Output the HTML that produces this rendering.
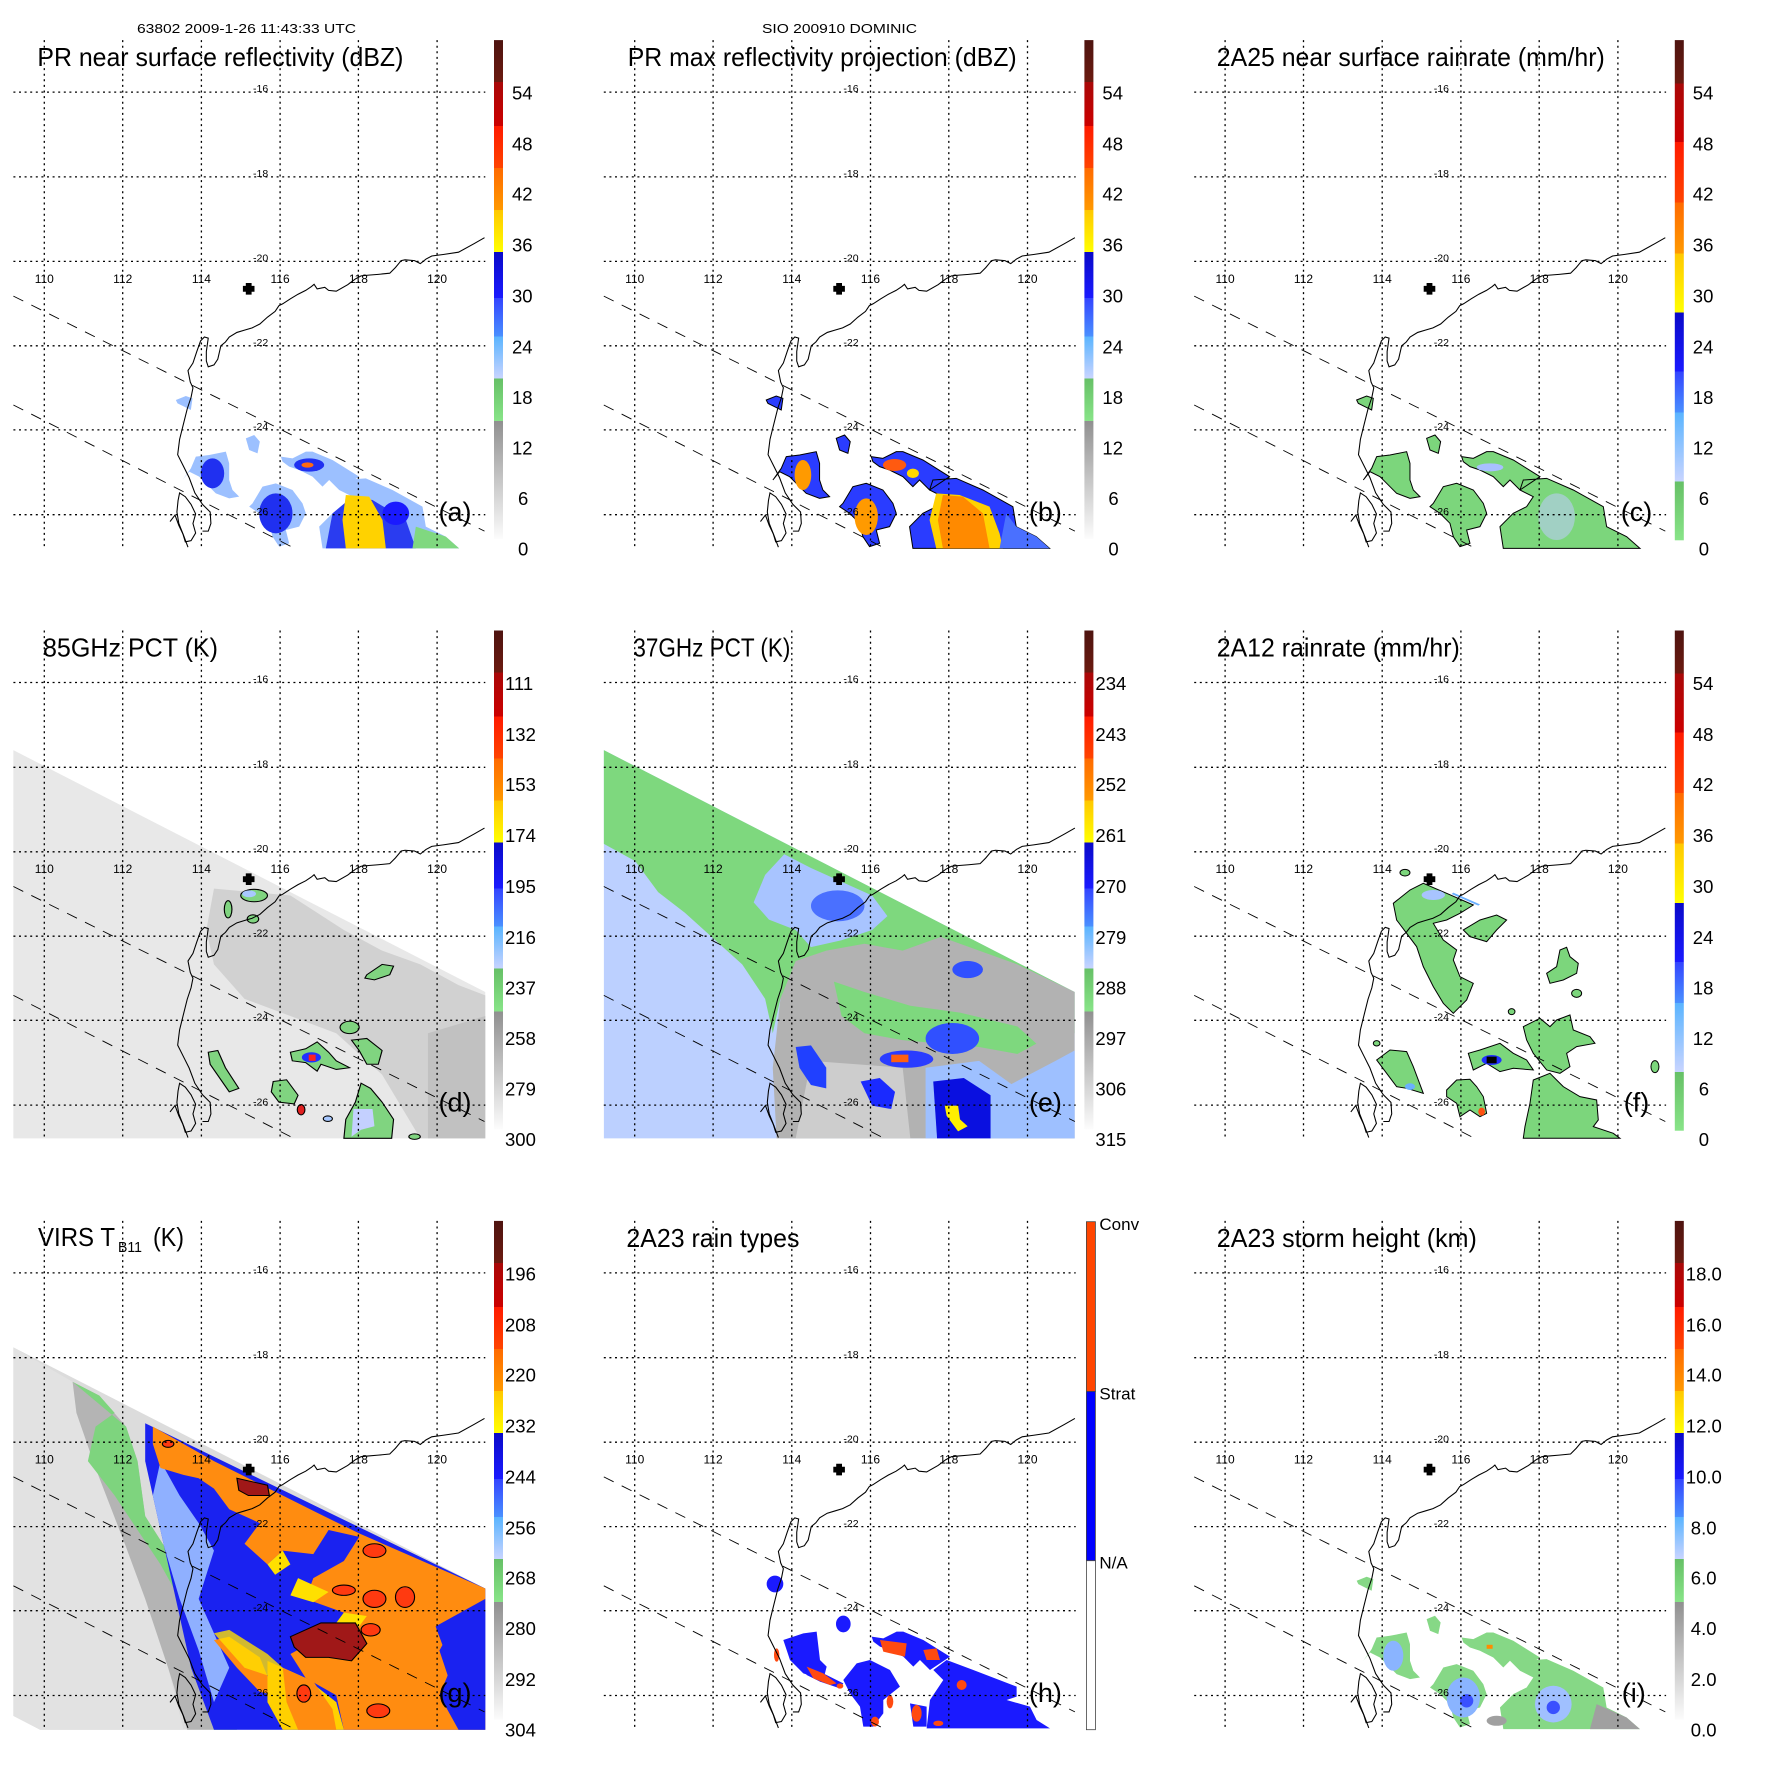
<!DOCTYPE html>
<html><head><meta charset="utf-8"><style>
html,body{margin:0;padding:0;background:#fff;}
svg{display:block;}
text{font-family:"Liberation Sans",Arial,sans-serif;fill:#000;}
.lon{font-size:12px;text-anchor:middle;}
.lat{font-size:10.5px;text-anchor:middle;}
.cb{font-size:18.5px;}
.ti{font-size:26px;}
.pl{font-size:27px;}
</style></head><body>
<svg width="1771" height="1771" viewBox="0 0 1771 1771" xmlns="http://www.w3.org/2000/svg">
<defs>
<linearGradient id="gA" x1="0" y1="0" x2="0" y2="1">
<stop offset="0" stop-color="#4e1410"/><stop offset=".0844" stop-color="#6b1a10"/>
<stop offset=".0844" stop-color="#a80808"/><stop offset=".1724" stop-color="#cc0000"/>
<stop offset=".1724" stop-color="#ff1a00"/><stop offset=".2567" stop-color="#ff4400"/>
<stop offset=".2567" stop-color="#ff6a00"/><stop offset=".3411" stop-color="#ff9900"/>
<stop offset=".3411" stop-color="#ffc800"/><stop offset=".4253" stop-color="#ffff00"/>
<stop offset=".4253" stop-color="#0a0ac8"/><stop offset=".5171" stop-color="#1a1aff"/>
<stop offset=".5171" stop-color="#3344ff"/><stop offset=".5939" stop-color="#4a90ff"/>
<stop offset=".5939" stop-color="#5ab4ff"/><stop offset=".6782" stop-color="#c8d4ff"/>
<stop offset=".6782" stop-color="#66c066"/><stop offset=".764" stop-color="#88e488"/>
<stop offset=".764" stop-color="#909090"/><stop offset="1" stop-color="#fcfcfc"/>
</linearGradient>
<linearGradient id="gC" x1="0" y1="0" x2="0" y2="1">
<stop offset="0" stop-color="#4e1410"/><stop offset=".0864" stop-color="#6b1a10"/>
<stop offset=".0864" stop-color="#a80808"/><stop offset=".2039" stop-color="#cc0000"/>
<stop offset=".2039" stop-color="#ff1a00"/><stop offset=".3247" stop-color="#ff4400"/>
<stop offset=".3247" stop-color="#ff6a00"/><stop offset=".4262" stop-color="#ff9900"/>
<stop offset=".4262" stop-color="#ffc800"/><stop offset=".5447" stop-color="#ffff00"/>
<stop offset=".5447" stop-color="#0a0ac8"/><stop offset=".6623" stop-color="#1a1aff"/>
<stop offset=".6623" stop-color="#3344ff"/><stop offset=".7449" stop-color="#4a90ff"/>
<stop offset=".7449" stop-color="#5ab4ff"/><stop offset=".8822" stop-color="#c8d4ff"/>
<stop offset=".8822" stop-color="#66c066"/><stop offset="1" stop-color="#88e488"/>
</linearGradient>
<g id="ov">
<g stroke="#000" stroke-width="1.3" stroke-dasharray="2 3.6" fill="none">
<path d="M44.3,40.1V547.2M122.7,40.1V547.2M201.4,40.1V547.2M280.1,40.1V547.2M358.4,40.1V547.2M437.1,40.1V547.2"/>
<path d="M13.4,92.1H485.3M13.4,176.9H485.3M13.4,261.4H485.3M13.4,345.8H485.3M13.4,429.9H485.3M13.4,514.7H485.3"/>
</g>
<g stroke="#000" stroke-width="0.9" stroke-dasharray="11 9" fill="none">
<path d="M13.4,296.1L484.5,531.1M13.4,405L292,547"/>
</g>
<g transform="scale(0.3821)" fill="none" stroke="#000" stroke-width="2.8">
<path d="M1268,622 L1240,638 L1200,660 L1160,666 L1130,670 L1115,678 L1100,690 L1085,682 L1060,680 L1050,682 L1035,700 L1020,715 L990,718 L965,720 L945,722 L930,730 L910,745 L880,762 L860,760 L850,752 L830,756 L822,744 L815,750 L800,760 L780,770 L760,782 L740,795 L730,800 L720,815 L700,830 L680,848 L660,858 L640,864 L620,870 L600,882 L590,895 L578,905 L570,940 L560,955 L545,960 L540,945 L540,920 L545,885 L535,882 L525,892 L515,920 L505,950 L492,970 L498,1000 L505,1015 L500,1040 L490,1070 L480,1110 L470,1150 L465,1190 L480,1220 L495,1250 L510,1290 L530,1320 L550,1340 L552,1370 L545,1390 L530,1390"/>
<path d="M470,1290 L485,1300 L500,1320 L512,1345 L505,1370 L512,1395 L500,1415 L485,1418 L478,1395 L468,1370 L463,1340 L466,1310 Z"/>
<path d="M445,1365 L458,1348 L468,1375 L480,1400 L492,1432"/>
</g>
<path d="M245.8,288.5h5.8v2.9h2.9v5.8h-2.9v2.9h-5.8v-2.9h-2.9v-5.8h2.9z" fill="#000" transform="translate(0,-5.5)"/>
</g>
<path id="PR" d="M530,60 L560,48 L580,55 L575,90 L555,80 L535,70 Z M740,175 L765,165 L782,185 L775,220 L750,210 Z M590,230 L630,225 L680,215 L690,250 L690,300 L700,330 L720,350 L690,355 L650,340 L620,310 L600,290 L570,275 L550,300 L575,265 Z M845,230 L880,235 L920,215 L940,215 L1000,240 L1080,290 L1050,310 L1020,330 L990,300 L970,320 L940,290 L900,270 L870,260 L850,245 Z M760,370 L790,320 L830,310 L880,330 L910,370 L920,400 L900,440 L860,450 L870,490 L840,500 L820,470 L810,430 L780,400 L750,380 Z M1030,300 L1100,295 L1180,330 L1270,380 L1280,440 L1340,470 L1380,505 L970,505 L960,440 L1000,400 L1040,380 L1060,350 L1020,330 Z"/>
</defs>

<text x="137" y="33" font-size="12.5" textLength="219" lengthAdjust="spacingAndGlyphs">63802 2009-1-26 11:43:33 UTC</text>
<text x="762" y="33" font-size="12.5" textLength="155" lengthAdjust="spacingAndGlyphs">SIO 200910 DOMINIC</text>

<!-- ===== Panel a ===== -->
<g transform="translate(0,0)">
<g transform="translate(-0.8,380) scale(0.3333)">
<use href="#PR" fill="#9cc0ff"/>
<ellipse cx="640" cy="280" rx="35" ry="45" fill="#2030f0"/>
<ellipse cx="930" cy="255" rx="45" ry="20" fill="#2030f0"/>
<ellipse cx="925" cy="255" rx="18" ry="8" fill="#ff6a10"/>
<ellipse cx="830" cy="400" rx="50" ry="60" fill="#2030f0"/>
<path d="M1000,400 L1060,350 L1120,360 L1220,420 L1250,505 L980,505 Z" fill="#2a3cf0"/>
<path d="M1040,345 L1110,350 L1150,420 L1160,505 L1040,505 L1030,420 Z" fill="#ffd200"/>
<ellipse cx="1190" cy="400" rx="40" ry="35" fill="#1a1aff"/>
<path d="M1250,440 L1340,470 L1380,505 L1240,505 Z" fill="#80d880"/>
</g>
<use href="#ov"/>
<rect x="494" y="40.1" width="9" height="498.7" fill="url(#gA)"/>
<text class="ti" x="37.4" y="66" textLength="366" lengthAdjust="spacingAndGlyphs">PR near surface reflectivity (dBZ)</text>
<text class="pl" x="438.5" y="521">(a)</text>
<g class="cb"><text x="512" y="99.7">54</text><text x="512" y="150.5">48</text><text x="512" y="200.6">42</text><text x="512" y="251.5">36</text><text x="512" y="302.6">30</text><text x="512" y="353.5">24</text><text x="512" y="403.9">18</text><text x="512" y="454.4">12</text><text x="518" y="505.1">6</text><text x="518" y="555.6">0</text></g>
<g class="lon"><text x="44.3" y="282.8">110</text><text x="122.7" y="282.8">112</text><text x="201.4" y="282.8">114</text><text x="280.1" y="282.8">116</text><text x="358.4" y="282.8">118</text><text x="437.1" y="282.8">120</text></g>
<g class="lat"><text x="260.6" y="92">-16</text><text x="260.6" y="177">-18</text><text x="260.6" y="261.5">-20</text><text x="260.6" y="346">-22</text><text x="260.6" y="430">-24</text><text x="260.6" y="515">-26</text></g>
</g>

<!-- ===== Panel b ===== -->
<g transform="translate(590.4,0)">
<g transform="translate(-0.8,380) scale(0.3333)">
<use href="#PR" fill="#2a3cff" stroke="#000" stroke-width="3"/>
<ellipse cx="640" cy="285" rx="25" ry="45" fill="#ff9a00"/>
<ellipse cx="915" cy="255" rx="35" ry="18" fill="#ff5a10"/>
<ellipse cx="970" cy="280" rx="18" ry="14" fill="#ffd800"/>
<ellipse cx="830" cy="410" rx="35" ry="55" fill="#ff9a00"/>
<path d="M1040,340 L1110,345 L1200,380 L1230,460 L1240,505 L1040,505 L1020,420 Z" fill="#ffd200"/>
<path d="M1060,345 L1120,350 L1180,400 L1200,505 L1060,505 L1045,420 Z" fill="#ff8a00"/>
<path d="M1250,400 L1280,440 L1340,470 L1380,505 L1230,505 Z" fill="#4a70ff"/>
</g>
<use href="#ov"/>
<rect x="494" y="40.1" width="9" height="498.7" fill="url(#gA)"/>
<text class="ti" x="37.3" y="66" textLength="389" lengthAdjust="spacingAndGlyphs">PR max reflectivity projection (dBZ)</text>
<text class="pl" x="438.5" y="521">(b)</text>
<g class="cb"><text x="512" y="99.7">54</text><text x="512" y="150.5">48</text><text x="512" y="200.6">42</text><text x="512" y="251.5">36</text><text x="512" y="302.6">30</text><text x="512" y="353.5">24</text><text x="512" y="403.9">18</text><text x="512" y="454.4">12</text><text x="518" y="505.1">6</text><text x="518" y="555.6">0</text></g>
<g class="lon"><text x="44.3" y="282.8">110</text><text x="122.7" y="282.8">112</text><text x="201.4" y="282.8">114</text><text x="280.1" y="282.8">116</text><text x="358.4" y="282.8">118</text><text x="437.1" y="282.8">120</text></g>
<g class="lat"><text x="260.6" y="92">-16</text><text x="260.6" y="177">-18</text><text x="260.6" y="261.5">-20</text><text x="260.6" y="346">-22</text><text x="260.6" y="430">-24</text><text x="260.6" y="515">-26</text></g>
</g>

<!-- ===== Panel c ===== -->
<g transform="translate(1180.8,0)">
<g transform="translate(-0.8,380) scale(0.3333)">
<use href="#PR" fill="#7cd67c" stroke="#000" stroke-width="3"/>
<ellipse cx="930" cy="262" rx="40" ry="12" fill="#a8c0ff"/>
<ellipse cx="1130" cy="410" rx="55" ry="70" fill="#c0ccff" opacity="0.55"/>
</g>
<use href="#ov"/>
<rect x="494" y="40.1" width="9" height="500.2" fill="url(#gC)"/>
<text class="ti" x="36" y="66" textLength="388" lengthAdjust="spacingAndGlyphs">2A25 near surface rainrate (mm/hr)</text>
<text class="pl" x="440" y="521">(c)</text>
<g class="cb"><text x="512" y="99.7">54</text><text x="512" y="150.5">48</text><text x="512" y="200.6">42</text><text x="512" y="251.5">36</text><text x="512" y="302.6">30</text><text x="512" y="353.5">24</text><text x="512" y="403.9">18</text><text x="512" y="454.4">12</text><text x="518" y="505.1">6</text><text x="518" y="555.6">0</text></g>
<g class="lon"><text x="44.3" y="282.8">110</text><text x="122.7" y="282.8">112</text><text x="201.4" y="282.8">114</text><text x="280.1" y="282.8">116</text><text x="358.4" y="282.8">118</text><text x="437.1" y="282.8">120</text></g>
<g class="lat"><text x="260.6" y="92">-16</text><text x="260.6" y="177">-18</text><text x="260.6" y="261.5">-20</text><text x="260.6" y="346">-22</text><text x="260.6" y="430">-24</text><text x="260.6" y="515">-26</text></g>
</g>

<!-- ===== Panel d ===== -->
<g transform="translate(0,590.4)">
<g transform="translate(0,29.6) scale(0.3821,0.3444)">
<path d="M35,378 L1270,1080 L1270,1505 L35,1505 Z" fill="#e8e8e8"/>
<path d="M560,780 L760,800 L900,900 L1000,960 L1100,1000 L1200,1060 L1270,1090 L1270,1505 L1100,1505 L1000,1320 L880,1200 L760,1150 L640,1100 L560,1000 L540,900 Z" fill="#cdcdcd" opacity="0.85"/>
<path d="M1120,1200 L1270,1150 L1270,1505 L1120,1505 Z" fill="#bdbdbd" opacity="0.8"/>
<g stroke="#000" stroke-width="3" fill="#80d480">
<ellipse cx="665" cy="800" rx="35" ry="18"/>
<ellipse cx="597" cy="840" rx="10" ry="25"/>
<ellipse cx="662" cy="868" rx="15" ry="12"/>
<path d="M960,1030 L1000,1000 L1030,1005 L1020,1030 L980,1045 L955,1040 Z"/>
<ellipse cx="915" cy="1183" rx="25" ry="18"/>
<path d="M760,1255 L800,1245 L830,1225 L860,1255 L880,1280 L915,1300 L880,1305 L840,1290 L830,1310 L800,1285 L765,1280 Z"/>
<path d="M920,1220 L960,1215 L1000,1250 L990,1290 L960,1290 L940,1250 Z"/>
<path d="M545,1255 L570,1250 L590,1300 L625,1360 L600,1370 L575,1330 L550,1290 Z"/>
<path d="M715,1340 L750,1335 L780,1380 L770,1405 L730,1400 L710,1370 Z"/>
<path d="M945,1345 L970,1360 L1000,1400 L1030,1450 L1025,1505 L900,1505 L905,1450 L930,1400 Z"/>
<ellipse cx="1085" cy="1500" rx="15" ry="8"/>
</g>
<ellipse cx="652" cy="795" rx="18" ry="10" fill="#a8c8ff"/>
<ellipse cx="815" cy="1270" rx="25" ry="15" fill="#2030ff"/>
<rect x="808" y="1262" width="18" height="18" fill="#ff2020"/>
<ellipse cx="788" cy="1422" rx="10" ry="15" fill="#e02020" stroke="#000" stroke-width="3"/>
<ellipse cx="858" cy="1448" rx="12" ry="8" fill="#a8c8ff" stroke="#000" stroke-width="3"/>
<path d="M925,1420 L975,1420 L980,1470 L945,1480 L920,1500 Z" fill="#c4d0ff"/>
</g>
<use href="#ov"/>
<rect x="494" y="40.1" width="9" height="498.7" fill="url(#gA)"/>
<text class="ti" x="43" y="66" textLength="175" lengthAdjust="spacingAndGlyphs">85GHz PCT (K)</text>
<text class="pl" x="438.5" y="521">(d)</text>
<g class="cb"><text x="505" y="99.7">111</text><text x="505" y="150.5">132</text><text x="505" y="200.6">153</text><text x="505" y="251.5">174</text><text x="505" y="302.6">195</text><text x="505" y="353.5">216</text><text x="505" y="403.9">237</text><text x="505" y="454.4">258</text><text x="505" y="505.1">279</text><text x="505" y="555.6">300</text></g>
<g class="lon"><text x="44.3" y="282.8">110</text><text x="122.7" y="282.8">112</text><text x="201.4" y="282.8">114</text><text x="280.1" y="282.8">116</text><text x="358.4" y="282.8">118</text><text x="437.1" y="282.8">120</text></g>
<g class="lat"><text x="260.6" y="92">-16</text><text x="260.6" y="177">-18</text><text x="260.6" y="261.5">-20</text><text x="260.6" y="346">-22</text><text x="260.6" y="430">-24</text><text x="260.6" y="515">-26</text></g>
</g>

<!-- ===== Panel e ===== -->
<g transform="translate(590.4,590.4)">
<g transform="translate(6.6,29.6) scale(0.3821,0.3444)">
<path d="M18,378 L1250,1080 L1250,1505 L18,1505 Z" fill="#bcd0ff"/>
<path d="M18,378 L1250,1080 L1250,1200 L1150,1200 L1050,1150 L950,1120 L800,1100 L700,1050 L600,970 L520,1000 L480,1100 L460,1200 L440,1100 L380,1000 L300,920 L230,850 L160,790 L100,700 L18,650 Z" fill="#7ed87e"/>
<path d="M410,820 L440,740 L490,680 L560,720 L720,800 L760,860 L720,900 L640,930 L560,950 L520,900 L450,870 Z" fill="#a8c4ff"/>
<ellipse cx="630" cy="830" rx="70" ry="45" fill="#4a70ff"/>
<path d="M520,990 L600,960 L700,940 L800,960 L900,920 L1000,960 L1100,1000 L1250,1080 L1250,1505 L470,1505 L460,1300 L480,1100 Z" fill="#b2b2b2"/>
<path d="M560,1280 L800,1300 L820,1505 L520,1505 Z" fill="#cdcdcd"/>
<path d="M620,1050 L700,1080 L820,1120 L950,1140 L1100,1180 L1150,1230 L1100,1260 L1000,1240 L900,1230 L800,1220 L700,1200 L640,1150 Z" fill="#7ed87e"/>
<path d="M1080,1350 L1200,1280 L1250,1250 L1250,1505 L1080,1505 Z" fill="#9ec0ff"/>
<path d="M860,1300 L1000,1280 L1100,1360 L1100,1505 L860,1505 Z" fill="#9ec0ff"/>
<path d="M520,1240 L560,1235 L600,1300 L600,1360 L560,1350 L530,1300 Z" fill="#2040ff"/>
<path d="M690,1340 L740,1330 L780,1370 L770,1420 L720,1410 Z" fill="#1a2aff"/>
<ellipse cx="810" cy="1275" rx="70" ry="25" fill="#2a3cff"/>
<rect x="770" y="1262" width="45" height="22" fill="#ff6010"/>
<path d="M880,1340 L960,1330 L1030,1380 L1030,1505 L890,1505 Z" fill="#0a10e0"/>
<path d="M910,1410 L945,1410 L950,1450 L970,1470 L945,1485 L915,1440 Z" fill="#ffee00"/>
<ellipse cx="930" cy="1215" rx="70" ry="45" fill="#3050ff"/>
<ellipse cx="970" cy="1015" rx="40" ry="25" fill="#3050ff"/>
</g>
<use href="#ov"/>
<rect x="494" y="40.1" width="9" height="498.7" fill="url(#gA)"/>
<text class="ti" x="43" y="66" textLength="157" lengthAdjust="spacingAndGlyphs">37GHz PCT (K)</text>
<text class="pl" x="438.5" y="521">(e)</text>
<g class="cb"><text x="505" y="99.7">234</text><text x="505" y="150.5">243</text><text x="505" y="200.6">252</text><text x="505" y="251.5">261</text><text x="505" y="302.6">270</text><text x="505" y="353.5">279</text><text x="505" y="403.9">288</text><text x="505" y="454.4">297</text><text x="505" y="505.1">306</text><text x="505" y="555.6">315</text></g>
<g class="lon"><text x="44.3" y="282.8">110</text><text x="122.7" y="282.8">112</text><text x="201.4" y="282.8">114</text><text x="280.1" y="282.8">116</text><text x="358.4" y="282.8">118</text><text x="437.1" y="282.8">120</text></g>
<g class="lat"><text x="260.6" y="92">-16</text><text x="260.6" y="177">-18</text><text x="260.6" y="261.5">-20</text><text x="260.6" y="346">-22</text><text x="260.6" y="430">-24</text><text x="260.6" y="515">-26</text></g>
</g>

<!-- ===== Panel f ===== -->
<g transform="translate(1180.8,590.4)">
<g transform="translate(-0.8,249.6) scale(0.3333)">
<g fill="#7cd67c" stroke="#000" stroke-width="3">
<path d="M640,190 L690,150 L730,130 L800,160 L880,195 L840,220 L800,240 L760,250 L790,300 L830,330 L820,360 L840,410 L880,430 L860,480 L820,520 L790,490 L760,440 L730,380 L710,320 L680,280 L650,240 Z"/>
<ellipse cx="675" cy="98" rx="15" ry="10"/>
<path d="M850,270 L900,240 L950,225 L980,240 L950,270 L920,305 L870,290 Z"/>
<path d="M1100,400 L1130,380 L1140,330 L1160,322 L1170,350 L1195,370 L1190,400 L1150,420 L1110,430 Z"/>
<ellipse cx="1190" cy="460" rx="15" ry="12"/>
<path d="M590,660 L630,630 L680,635 L700,680 L730,760 L680,745 L650,740 L620,700 Z"/>
<path d="M800,750 L830,720 L870,718 L890,740 L910,770 L920,820 L900,830 L870,810 L840,830 L830,790 L800,770 Z"/>
<path d="M865,640 L900,630 L960,610 L1000,640 L1040,660 L1060,690 L1000,685 L960,695 L920,670 L880,690 Z"/>
<path d="M1030,560 L1080,535 L1110,560 L1130,540 L1170,525 L1180,570 L1230,590 L1245,610 L1190,620 L1160,640 L1170,680 L1140,700 L1100,690 L1060,640 L1040,600 Z"/>
<path d="M1060,720 L1110,700 L1130,720 L1150,740 L1200,770 L1250,780 L1255,840 L1240,860 L1300,880 L1320,895 L1030,895 L1035,860 L1050,790 Z"/>
<ellipse cx="1425" cy="680" rx="12" ry="18"/>
<ellipse cx="995" cy="515" rx="10" ry="9"/>
<ellipse cx="590" cy="610" rx="10" ry="8"/>
</g>
<ellipse cx="760" cy="165" rx="35" ry="15" fill="#a8c4ff"/>
<path d="M820,158 L900,193 L895,197 L815,162 Z" fill="#6ab0ff"/>
<ellipse cx="935" cy="660" rx="30" ry="15" fill="#2030ff"/>
<rect x="920" y="650" width="30" height="20" fill="#000"/>
<ellipse cx="905" cy="815" rx="10" ry="12" fill="#ff5010"/>
<ellipse cx="690" cy="740" rx="15" ry="10" fill="#6ab0ff"/>
</g>
<use href="#ov"/>
<rect x="494" y="40.1" width="9" height="500.2" fill="url(#gC)"/>
<text class="ti" x="36" y="66" textLength="243" lengthAdjust="spacingAndGlyphs">2A12 rainrate (mm/hr)</text>
<text class="pl" x="443" y="521">(f)</text>
<g class="cb"><text x="512" y="99.7">54</text><text x="512" y="150.5">48</text><text x="512" y="200.6">42</text><text x="512" y="251.5">36</text><text x="512" y="302.6">30</text><text x="512" y="353.5">24</text><text x="512" y="403.9">18</text><text x="512" y="454.4">12</text><text x="518" y="505.1">6</text><text x="518" y="555.6">0</text></g>
<g class="lon"><text x="44.3" y="282.8">110</text><text x="122.7" y="282.8">112</text><text x="201.4" y="282.8">114</text><text x="280.1" y="282.8">116</text><text x="358.4" y="282.8">118</text><text x="437.1" y="282.8">120</text></g>
<g class="lat"><text x="260.6" y="92">-16</text><text x="260.6" y="177">-18</text><text x="260.6" y="261.5">-20</text><text x="260.6" y="346">-22</text><text x="260.6" y="430">-24</text><text x="260.6" y="515">-26</text></g>
</g>

<!-- ===== Panel g ===== -->
<g transform="translate(0,1180.8)">
<g transform="translate(0,39.2) scale(0.3821,0.3444)">
<path d="M35,370 L1270,1070 L1270,1480 L105,1480 L35,1440 Z" fill="#dcdcdc"/>
<path d="M35,370 L190,470 L250,720 L330,950 L380,1100 L440,1300 L480,1480 L105,1480 L35,1440 Z" fill="#e2e2e2"/>
<path d="M190,470 L260,510 L330,600 L360,700 L380,860 L460,1000 L520,1150 L560,1300 L620,1480 L490,1480 L440,1300 L380,1100 L330,950 L250,720 L200,560 Z" fill="#b4b4b4"/>
<path d="M190,470 L260,510 L300,560 L250,600 L230,700 L300,800 L360,900 L420,1000 L470,1100 L500,1200 L530,1320 L560,1480 L620,1480 L560,1300 L520,1150 L460,1000 L380,860 L360,700 L330,600 Z" fill="#7ed47e"/>
<path d="M380,590 L1270,1070 L1270,1480 L560,1480 L500,1300 L470,1150 L420,900 L380,700 Z" fill="#1a22f0"/>
<path d="M420,700 L470,800 L520,880 L560,960 L520,1100 L560,1200 L600,1300 L560,1400 L520,1250 L470,1100 L430,950 L400,800 Z" fill="#8fb0ff"/>
<path d="M400,600 L560,700 L830,850 L940,910 L1270,1070 L1270,1130 L1200,1150 L1150,1250 L1180,1350 L1270,1420 L1270,1480 L900,1480 L880,1380 L800,1330 L760,1260 L860,1200 L900,1140 L800,1100 L820,1040 L900,990 L940,920 L860,900 L820,970 L740,960 L700,1000 L640,940 L680,880 L600,840 L560,780 L520,750 L480,740 L420,720 L400,650 Z" fill="#ff8c10"/>
<path d="M780,1040 L860,1080 L820,1110 L760,1090 Z M700,1000 L740,960 L760,1000 L720,1030 Z M900,1140 L960,1150 L940,1180 L880,1170 Z" fill="#ffe000"/>
<path d="M560,1220 L600,1210 L680,1270 L720,1380 L680,1370 L620,1300 Z" fill="#ff8c10"/>
<path d="M560,1200 L600,1190 L700,1260 L740,1300 L720,1330 L640,1300 Z" fill="#ffe000" opacity="0.8"/>
<path d="M700,1280 L800,1330 L880,1400 L900,1480 L740,1480 L700,1400 Z" fill="#ffd000"/>
<path d="M740,1300 L820,1340 L870,1420 L880,1480 L780,1480 L750,1400 Z" fill="#ff8c10"/>
<path d="M1140,1180 L1270,1100 L1270,1480 L1200,1480 L1150,1380 L1180,1300 Z" fill="#1a22f0"/>
<path d="M620,750 L700,770 L705,800 L650,800 L625,785 Z" fill="#a01818" stroke="#000" stroke-width="3"/>
<path d="M760,1210 L840,1170 L930,1170 L960,1230 L920,1280 L860,1270 L800,1270 L770,1240 Z" fill="#a01818" stroke="#000" stroke-width="3"/>
<g fill="#ff3a10" stroke="#000" stroke-width="3">
<ellipse cx="900" cy="1075" rx="30" ry="15"/><ellipse cx="980" cy="1100" rx="30" ry="25"/><ellipse cx="1060" cy="1095" rx="25" ry="30"/>
<ellipse cx="970" cy="1190" rx="25" ry="18"/><ellipse cx="795" cy="1375" rx="18" ry="25"/><ellipse cx="990" cy="1425" rx="30" ry="20"/>
<ellipse cx="980" cy="960" rx="30" ry="20"/><ellipse cx="440" cy="650" rx="15" ry="10"/>
</g>
</g>
<use href="#ov"/>
<rect x="494" y="40.1" width="9" height="498.7" fill="url(#gA)"/>
<text class="ti" x="38" y="65" textLength="77" lengthAdjust="spacingAndGlyphs">VIRS T</text>
<text x="118" y="71" font-size="15" textLength="24" lengthAdjust="spacingAndGlyphs">B11</text>
<text class="ti" x="153" y="65" textLength="31" lengthAdjust="spacingAndGlyphs">(K)</text>
<text class="pl" x="438.5" y="521">(g)</text>
<g class="cb"><text x="505" y="99.7">196</text><text x="505" y="150.5">208</text><text x="505" y="200.6">220</text><text x="505" y="251.5">232</text><text x="505" y="302.6">244</text><text x="505" y="353.5">256</text><text x="505" y="403.9">268</text><text x="505" y="454.4">280</text><text x="505" y="505.1">292</text><text x="505" y="555.6">304</text></g>
<g class="lon"><text x="44.3" y="282.8">110</text><text x="122.7" y="282.8">112</text><text x="201.4" y="282.8">114</text><text x="280.1" y="282.8">116</text><text x="358.4" y="282.8">118</text><text x="437.1" y="282.8">120</text></g>
<g class="lat"><text x="260.6" y="92">-16</text><text x="260.6" y="177">-18</text><text x="260.6" y="261.5">-20</text><text x="260.6" y="346">-22</text><text x="260.6" y="430">-24</text><text x="260.6" y="515">-26</text></g>
</g>

<!-- ===== Panel h ===== -->
<g transform="translate(590.4,1180.8)">
<g transform="translate(-0.4,379.2) scale(0.3333)">
<g fill="#1a1aff">
<ellipse cx="555" cy="72" rx="25" ry="25"/>
<ellipse cx="760" cy="192" rx="22" ry="25"/>
<path d="M580,240 L640,220 L680,215 L690,300 L710,320 L700,360 L640,340 L600,300 Z"/>
<path d="M640,320 L700,340 L760,370 L750,385 L690,365 L650,345 Z"/>
<path d="M845,230 L880,235 L920,215 L940,215 L1000,240 L1080,290 L1050,310 L1020,330 L990,300 L970,320 L940,290 L900,270 L870,260 L850,245 Z"/>
<path d="M760,360 L800,310 L840,300 L900,330 L930,380 L880,420 L880,460 L850,500 L820,500 L810,440 L780,400 Z"/>
<path d="M1070,300 L1150,330 L1280,380 L1280,410 L1250,420 L1320,440 L1340,480 L1380,505 L1010,505 L1020,420 L1060,360 L1030,330 Z"/>
<path d="M960,430 L1010,440 L1010,500 L970,500 Z"/>
</g>
<g fill="#ff4a10">
<path d="M870,240 L950,250 L945,290 L880,275 Z"/>
<path d="M650,320 L700,340 L740,370 L720,375 L670,355 Z"/>
<path d="M1000,270 L1040,265 L1050,300 L1010,300 Z"/>
<ellipse cx="900" cy="425" rx="10" ry="20"/><ellipse cx="980" cy="460" rx="15" ry="25"/>
<ellipse cx="855" cy="485" rx="12" ry="15"/><ellipse cx="1115" cy="375" rx="15" ry="15"/>
<ellipse cx="750" cy="378" rx="10" ry="8"/><ellipse cx="1045" cy="490" rx="15" ry="8"/>
<ellipse cx="560" cy="285" rx="8" ry="20"/>
</g>
</g>
<use href="#ov"/>
<rect x="496" y="40.9" width="9" height="169.7" fill="#ff4500" stroke="#444" stroke-width="0.8"/>
<rect x="496" y="210.6" width="9" height="169.3" fill="#0000ff" stroke="#444" stroke-width="0.8"/>
<rect x="496" y="379.9" width="9" height="169" fill="#fff" stroke="#444" stroke-width="0.8"/>
<text x="509" y="49" font-size="17">Conv</text>
<text x="509" y="218.5" font-size="17">Strat</text>
<text x="509" y="387.5" font-size="17">N/A</text>
<text class="ti" x="36" y="66" textLength="173" lengthAdjust="spacingAndGlyphs">2A23 rain types</text>
<text class="pl" x="438.5" y="521">(h)</text>
<g class="lon"><text x="44.3" y="282.8">110</text><text x="122.7" y="282.8">112</text><text x="201.4" y="282.8">114</text><text x="280.1" y="282.8">116</text><text x="358.4" y="282.8">118</text><text x="437.1" y="282.8">120</text></g>
<g class="lat"><text x="260.6" y="92">-16</text><text x="260.6" y="177">-18</text><text x="260.6" y="261.5">-20</text><text x="260.6" y="346">-22</text><text x="260.6" y="430">-24</text><text x="260.6" y="515">-26</text></g>
</g>

<!-- ===== Panel i ===== -->
<g transform="translate(1180.8,1180.8)">
<g transform="translate(-0.8,380) scale(0.3333)">
<use href="#PR" fill="#86d886"/>
<ellipse cx="640" cy="285" rx="30" ry="45" fill="#8ab4ff"/>
<ellipse cx="850" cy="410" rx="50" ry="60" fill="#8ab4ff"/>
<ellipse cx="860" cy="420" rx="20" ry="20" fill="#3a50ff"/>
<ellipse cx="1120" cy="430" rx="55" ry="55" fill="#a0c0ff"/>
<ellipse cx="1120" cy="440" rx="20" ry="20" fill="#3a50ff"/>
<path d="M1250,430 L1340,470 L1380,505 L1230,505 Z" fill="#a0a0a0"/>
<rect x="920" y="252" width="18" height="12" fill="#ff8c00"/>
<ellipse cx="950" cy="480" rx="30" ry="15" fill="#a0a0a0"/>
</g>
<use href="#ov"/>
<rect x="494" y="40.1" width="9" height="498.7" fill="url(#gA)"/>
<text class="ti" x="36" y="66" textLength="260" lengthAdjust="spacingAndGlyphs">2A23 storm height (km)</text>
<text class="pl" x="441" y="521">(i)</text>
<g class="cb"><text x="505" y="99.7">18.0</text><text x="505" y="150.5">16.0</text><text x="505" y="200.6">14.0</text><text x="505" y="251.5">12.0</text><text x="505" y="302.6">10.0</text><text x="510" y="353.5">8.0</text><text x="510" y="403.9">6.0</text><text x="510" y="454.4">4.0</text><text x="510" y="505.1">2.0</text><text x="510" y="555.6">0.0</text></g>
<g class="lon"><text x="44.3" y="282.8">110</text><text x="122.7" y="282.8">112</text><text x="201.4" y="282.8">114</text><text x="280.1" y="282.8">116</text><text x="358.4" y="282.8">118</text><text x="437.1" y="282.8">120</text></g>
<g class="lat"><text x="260.6" y="92">-16</text><text x="260.6" y="177">-18</text><text x="260.6" y="261.5">-20</text><text x="260.6" y="346">-22</text><text x="260.6" y="430">-24</text><text x="260.6" y="515">-26</text></g>
</g>
</svg>
</body></html>
